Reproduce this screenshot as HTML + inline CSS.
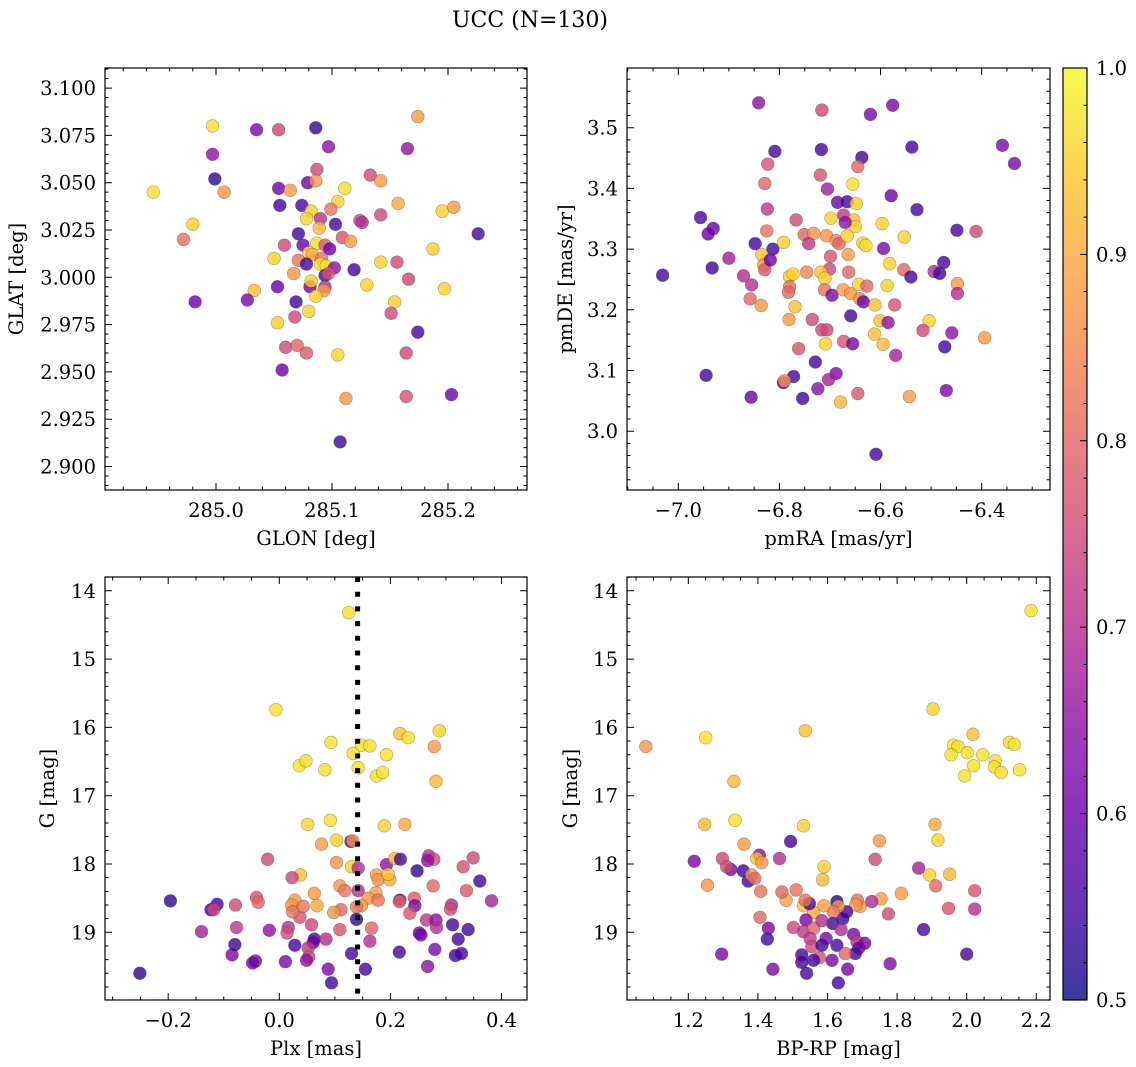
<!DOCTYPE html>
<html>
<head>
<meta charset="utf-8">
<style>
  html, body { margin: 0; padding: 0; background: #ffffff; }
  svg { display: block; font-family: "DejaVu Serif", "Liberation Serif", serif; }
</style>
</head>
<body>
<svg id="fig" width="1136" height="1067" viewBox="0 0 1136 1067" xmlns="http://www.w3.org/2000/svg">
  <defs>
    <linearGradient id="plasma" x1="0" y1="1" x2="0" y2="0">
      <stop offset="0" stop-color="#0d0887"/>
      <stop offset="0.1" stop-color="#41049d"/>
      <stop offset="0.2" stop-color="#6a00a8"/>
      <stop offset="0.3" stop-color="#8f0da4"/>
      <stop offset="0.4" stop-color="#b12a90"/>
      <stop offset="0.5" stop-color="#cc4778"/>
      <stop offset="0.6" stop-color="#e16462"/>
      <stop offset="0.7" stop-color="#f2844b"/>
      <stop offset="0.8" stop-color="#fca636"/>
      <stop offset="0.9" stop-color="#fcce25"/>
      <stop offset="1" stop-color="#f0f921"/>
    </linearGradient>
  </defs>
  <text x="530" y="27" font-size="22" text-anchor="middle" fill="#000">UCC (N=130)</text>
</svg>
<script>
// ---------- Panel 1: GLON vs GLAT ----------
const glon = [285.174,284.997,285.035,285.054,285.086,285.097,285.165,284.997,285.087,284.999,
285.079,285.086,285.133,285.142,284.946,285.007,285.054,285.064,285.111,285.055,
285.074,285.082,285.105,285.099,285.157,285.195,285.205,285.142,285.078,285.090,
285.103,285.124,285.126,285.089,285.226,284.980,284.972,285.071,285.059,285.075,
285.087,285.094,285.098,285.109,285.116,285.187,285.050,285.071,285.080,285.083,
285.078,285.091,285.090,285.095,285.102,285.094,285.097,285.119,285.142,285.156,
285.067,285.166,285.053,285.033,285.081,285.082,285.094,285.093,285.086,285.130,
285.197,284.982,285.027,285.069,285.154,285.080,285.068,285.151,285.053,285.174,
285.060,285.070,285.078,285.105,285.164,285.057,285.112,285.164,285.203,285.107];
const glat = [3.085,3.080,3.078,3.078,3.079,3.069,3.068,3.065,3.057,3.052,
3.050,3.051,3.054,3.051,3.045,3.045,3.047,3.046,3.047,3.038,
3.038,3.035,3.040,3.036,3.039,3.035,3.037,3.033,3.031,3.031,
3.028,3.030,3.029,3.026,3.023,3.028,3.020,3.023,3.017,3.017,
3.018,3.017,3.015,3.021,3.019,3.015,3.010,3.009,3.013,3.012,
3.007,3.010,3.007,3.006,3.005,3.001,3.002,3.004,3.008,3.008,
3.002,2.999,2.995,2.993,2.995,2.998,2.995,2.993,2.990,2.996,
2.994,2.987,2.988,2.987,2.987,2.982,2.979,2.981,2.976,2.971,
2.963,2.964,2.960,2.959,2.960,2.951,2.936,2.937,2.938,2.913];
const prob1 = [.88,.97,.62,.75,.53,.65,.65,.65,.75,.53,
.6,.87,.75,.88,.97,.87,.6,.88,.97,.55,
.55,.95,.95,.82,.9,.95,.88,.75,.95,.7,
.55,.75,.7,.92,.55,.95,.82,.55,.75,.6,
.97,.78,.6,.77,.88,.95,.95,.82,.97,.9,
.55,.82,.97,.97,.65,.55,.77,.55,.95,.75,
.87,.75,.6,.93,.6,.95,.7,.88,.95,.95,
.95,.6,.62,.55,.95,.95,.75,.75,.95,.55,
.75,.8,.78,.95,.75,.6,.87,.77,.6,.55];

// ---------- Panel 2: pmRA vs pmDE ----------
const pmra = [-6.841,-6.716,-6.620,-6.576,-6.538,-6.359,-6.335,-6.809,-6.717,-6.637,
-6.823,-6.645,-6.829,-6.719,-6.655,-6.705,-6.579,-6.528,-6.824,-6.685,
-6.666,-6.648,-6.956,-6.931,-6.941,-6.449,-6.411,-6.767,-6.698,-6.673,
-6.653,-6.650,-6.670,-6.597,-6.553,-6.825,-6.751,-6.732,-6.707,-6.688,
-6.682,-6.666,-6.742,-6.635,-6.629,-6.848,-6.813,-6.792,-6.594,-6.835,
-6.831,-6.829,-6.818,-6.900,-6.933,-7.031,-6.871,-6.855,-6.858,-6.836,
-6.699,-6.701,-6.664,-6.663,-6.780,-6.773,-6.746,-6.718,-6.710,-6.780,
-6.782,-6.711,-6.696,-6.674,-6.659,-6.643,-6.627,-6.641,-6.634,-6.611,
-6.587,-6.582,-6.554,-6.540,-6.494,-6.483,-6.475,-6.448,-6.448,-6.572,
-6.769,-6.781,-6.735,-6.659,-6.601,-6.585,-6.504,-6.516,-6.459,-6.394,
-6.716,-6.706,-6.612,-6.709,-6.673,-6.655,-6.595,-6.762,-6.570,-6.473,
-6.729,-6.945,-6.772,-6.792,-6.790,-6.688,-6.703,-6.724,-6.856,-6.754,
-6.645,-6.679,-6.543,-6.470,-6.609];
const pmde = [3.541,3.529,3.522,3.537,3.468,3.471,3.441,3.461,3.464,3.451,
3.440,3.436,3.408,3.422,3.407,3.399,3.388,3.365,3.366,3.377,
3.378,3.375,3.352,3.334,3.325,3.331,3.329,3.348,3.351,3.356,
3.348,3.337,3.344,3.342,3.320,3.330,3.324,3.326,3.322,3.314,
3.309,3.322,3.309,3.310,3.306,3.309,3.300,3.311,3.301,3.291,
3.274,3.266,3.282,3.285,3.269,3.257,3.256,3.241,3.218,3.207,
3.288,3.267,3.291,3.262,3.255,3.259,3.262,3.262,3.252,3.238,
3.229,3.233,3.224,3.233,3.227,3.242,3.239,3.218,3.213,3.208,
3.240,3.276,3.266,3.254,3.263,3.260,3.278,3.243,3.227,3.208,
3.205,3.184,3.184,3.190,3.182,3.179,3.182,3.166,3.162,3.154,
3.167,3.167,3.160,3.144,3.148,3.144,3.143,3.136,3.125,3.139,
3.114,3.092,3.090,3.080,3.083,3.095,3.085,3.070,3.056,3.054,
3.062,3.048,3.057,3.067,2.962];
const prob2 = [.65,.75,.62,.62,.55,.62,.62,.55,.55,.55,
.77,.8,.8,.77,.97,.67,.6,.55,.72,.6,
.55,.95,.55,.6,.6,.55,.75,.75,.95,.72,
.93,.95,.65,.95,.95,.82,.8,.87,.87,.85,
.8,.95,.72,.95,.97,.55,.55,.95,.62,.93,
.88,.78,.6,.68,.55,.55,.7,.7,.8,.87,
.77,.75,.88,.8,.95,.95,.85,.93,.95,.82,
.8,.82,.62,.88,.87,.95,.8,.85,.6,.93,
.95,.95,.8,.55,.7,.55,.55,.88,.7,.77,
.93,.88,.75,.55,.93,.65,.95,.75,.65,.88,
.75,.75,.93,.95,.77,.62,.92,.77,.68,.55,
.55,.55,.55,.55,.87,.62,.68,.65,.6,.55,
.77,.92,.88,.62,.55];

// ---------- Panel 3: Plx vs G ----------
const plx = [-0.006,0.093,0.133,0.148,0.163,0.142,0.217,0.232,0.288,0.279,
0.193,0.036,0.048,0.082,0.175,0.186,0.282,0.051,0.092,0.189,
0.226,0.076,0.103,0.129,0.132,-0.021,0.038,0.023,0.103,0.130,
0.142,0.193,0.208,0.218,0.248,0.269,0.278,0.267,0.331,0.349,
0.361,0.382,0.337,0.277,0.175,0.178,0.199,0.196,0.109,0.118,
0.142,0.063,0.174,0.160,0.148,0.139,0.178,0.217,0.216,0.243,
0.244,0.235,0.310,0.308,0.265,0.282,0.283,0.312,0.340,0.252,
0.255,0.322,0.280,0.216,0.317,0.328,0.267,0.166,0.163,0.139,
0.130,0.155,0.088,0.094,0.109,0.111,0.098,0.068,0.058,0.037,
0.028,0.022,0.024,0.043,-0.041,-0.038,-0.079,-0.077,-0.140,-0.018,
0.016,0.014,0.028,0.063,0.061,0.084,0.052,0.053,0.049,0.011,
-0.043,-0.048,-0.085,-0.080,-0.112,-0.123,-0.118,-0.196,-0.251,0.125];
const gmag3 = [15.74,16.22,16.38,16.26,16.27,16.59,16.09,16.15,16.05,16.28,
16.40,16.56,16.49,16.62,16.71,16.66,16.79,17.42,17.36,17.44,
17.42,17.71,17.65,17.67,17.66,17.93,18.16,18.20,17.98,18.04,
18.06,18.01,17.92,17.93,18.10,17.88,17.93,17.95,18.04,17.91,
18.25,18.54,18.39,18.32,18.16,18.23,18.23,18.15,18.32,18.39,
18.39,18.43,18.42,18.50,18.61,18.63,18.53,18.53,18.55,18.50,
18.61,18.72,18.60,18.66,18.82,18.82,18.93,18.89,18.96,19.01,
19.04,19.10,19.25,19.29,19.34,19.31,19.50,18.94,19.13,18.81,
19.31,19.54,19.54,19.74,18.96,18.67,18.71,18.61,18.89,18.78,
18.53,18.60,18.70,18.62,18.49,18.56,18.60,18.93,18.99,18.97,
18.93,19.01,19.19,19.10,19.15,19.10,19.23,19.36,19.41,19.43,
19.42,19.45,19.33,19.18,18.59,18.67,18.67,18.54,19.60,14.32];
const prob3 = [.97,.97,.97,.97,.97,.97,.93,.97,.95,.88,
.97,.97,.97,.97,.97,.97,.92,.95,.97,.95,
.9,.88,.95,.55,.87,.75,.93,.75,.87,.95,
.7,.65,.93,.55,.53,.7,.75,.65,.77,.75,
.55,.68,.78,.8,.88,.87,.9,.93,.87,.82,
.7,.88,.88,.87,.88,.82,.82,.55,.8,.78,
.62,.77,.7,.75,.72,.65,.7,.55,.55,.62,
.6,.55,.62,.55,.55,.55,.65,.8,.7,.53,
.55,.55,.62,.55,.77,.8,.87,.9,.75,.77,
.88,.87,.82,.82,.77,.8,.75,.72,.68,.65,
.7,.75,.55,.55,.6,.7,.72,.75,.65,.62,
.62,.6,.62,.55,.55,.55,.75,.53,.53,.97];
const plxThreshold = [0.141];

// ---------- Panel 4: BP-RP vs G ----------
const bprp = [1.903,2.018,1.962,1.975,1.955,2.002,2.046,2.020,1.994,2.082,
2.080,2.099,2.123,2.137,2.152,1.078,1.250,1.536,1.331,1.247,
1.334,1.531,1.909,1.917,1.749,1.494,1.737,1.360,1.404,1.397,
1.411,1.462,1.217,1.298,1.322,1.310,1.358,1.372,1.382,1.391,
1.255,1.408,1.406,1.430,1.427,1.296,1.443,1.590,1.586,1.862,
1.893,1.951,1.911,1.812,2.023,2.023,1.948,1.775,1.876,2.000,
1.780,1.754,1.727,1.694,1.686,1.681,1.655,1.644,1.627,1.631,
1.617,1.615,1.590,1.560,1.531,1.548,1.536,1.510,1.481,1.469,
1.502,1.538,1.531,1.560,1.584,1.550,1.555,1.596,1.584,1.627,
1.639,1.675,1.685,1.707,1.690,1.680,1.651,1.577,1.613,1.560,
1.526,1.526,1.540,1.658,1.631,2.185];
const gmag4 = [15.73,16.10,16.26,16.28,16.40,16.37,16.40,16.56,16.71,16.49,
16.58,16.66,16.22,16.25,16.62,16.28,16.15,16.05,16.79,17.42,
17.36,17.44,17.42,17.65,17.66,17.67,17.93,17.71,17.87,17.92,
17.98,17.92,17.96,17.92,18.08,18.04,18.10,18.25,18.16,18.21,
18.31,18.40,18.78,18.94,19.10,19.32,19.54,18.04,18.23,18.06,
18.16,18.15,18.32,18.43,18.39,18.66,18.65,18.73,18.96,19.32,
19.46,18.51,18.55,18.62,18.53,18.60,18.70,18.80,18.55,18.62,
18.70,18.87,18.61,18.71,18.61,18.58,18.53,18.38,18.53,18.41,
18.93,18.82,18.99,18.94,18.83,19.09,19.21,19.09,19.19,19.19,
18.96,19.03,19.14,19.16,19.23,19.31,19.31,19.37,19.41,19.41,
19.33,19.44,19.60,19.54,19.74,14.29];
const prob4 = [.95,.93,.97,.97,.97,.97,.97,.97,.97,.97,
.97,.97,.97,.97,.97,.87,.97,.93,.92,.92,
.97,.95,.9,.95,.88,.55,.75,.88,.65,.93,
.88,.7,.62,.75,.62,.75,.55,.55,.88,.8,
.87,.82,.8,.62,.55,.62,.62,.95,.92,.68,
.95,.92,.8,.88,.77,.7,.77,.75,.55,.55,
.62,.88,.7,.87,.82,.88,.55,.55,.52,.88,
.82,.55,.88,.9,.93,.55,.82,.82,.88,.8,
.75,.62,.72,.8,.7,.72,.75,.62,.55,.55,
.7,.62,.72,.62,.6,.55,.8,.77,.62,.55,
.55,.55,.55,.62,.55,.97];

// ---------- Colorbar ticks ----------
const cbarTicks = [0.5, 0.6, 0.7, 0.8, 0.9, 1.0];

// ---------- Helpers ----------
const NS = 'http://www.w3.org/2000/svg';
const svg = document.getElementById('fig');
const FS = 19.5;
function mk(tag, attrs, parent) {
  const e = document.createElementNS(NS, tag);
  for (const k in attrs) e.setAttribute(k, attrs[k]);
  (parent || svg).appendChild(e);
  return e;
}
const plasmaStops = ['#0d0887','#41049d','#6a00a8','#8f0da4','#b12a90','#cc4778','#e16462','#f2844b','#fca636','#fcce25','#f0f921'];
function hex2rgb(h) { return [parseInt(h.slice(1,3),16), parseInt(h.slice(3,5),16), parseInt(h.slice(5,7),16)]; }
function plasma(p) {
  let t = (p - 0.5) / 0.5; t = Math.max(0, Math.min(1, t));
  const f = t * 10; const i = Math.min(9, Math.floor(f)); const r = f - i;
  const a = hex2rgb(plasmaStops[i]), b = hex2rgb(plasmaStops[i+1]);
  return 'rgb(' + a.map((v, k) => Math.round(v + (b[k] - v) * r)).join(',') + ')';
}
function fmt(v, d) { const s = Math.abs(v).toFixed(d); return (v < -1e-9 ? '\u2212' : '') + s; }
function range(lo, hi, step) {
  const out = []; const k0 = Math.ceil(lo / step - 1e-6), k1 = Math.floor(hi / step + 1e-6);
  for (let k = k0; k <= k1; k++) out.push(+(k * step).toFixed(6));
  return out;
}

function panel(cfg) {
  const g = mk('g', {});
  
  
  const L = cfg.left, R = cfg.right, T = cfg.top, B = cfg.bottom;
  const xinv = px => cfg.x0v + (px - cfg.x0p) / cfg.xs;
  const yinv = py => cfg.y0v - (py - cfg.y0p) / cfg.ys * (cfg.yflip ? -1 : 1);
  const sx = v => cfg.x0p + (v - cfg.x0v) * cfg.xs;
  const sy = v => cfg.yflip ? cfg.y0p + (v - cfg.y0v) * cfg.ys : cfg.y0p - (v - cfg.y0v) * cfg.ys;

  const cid = 'clip-' + cfg.name;
  const cp = mk('clipPath', { id: cid }, g);
  mk('rect', { x: L, y: T, width: R - L, height: B - T }, cp);

  const pts = mk('g', { 'clip-path': 'url(#' + cid + ')' }, g);
  
  
  const n = Math.min(cfg.xs_data.length, cfg.ys_data.length, cfg.ps_data.length);
  for (let i = 0; i < n; i++) {
    const c = mk('circle', { cx: sx(cfg.xs_data[i]).toFixed(2), cy: sy(cfg.ys_data[i]).toFixed(2), r: 6.4,
      fill: plasma(cfg.ps_data[i]), 'fill-opacity': 0.8, stroke: '#404040', 'stroke-opacity': 0.45, 'stroke-width': 0.6 }, pts);
    
    
  }

  if (cfg.extra) cfg.extra(g, sx, sy);

  const fr = mk('rect', { x: L, y: T, width: R - L, height: B - T, fill: 'none', stroke: '#000', 'stroke-width': 1.2 }, g);
  
  

  const xlo = Math.min(xinv(L), xinv(R)), xhi = Math.max(xinv(L), xinv(R));
  const ylo = Math.min(yinv(T), yinv(B)), yhi = Math.max(yinv(T), yinv(B));
  let d = '';
  range(xlo, xhi, cfg.xminor).forEach(v => { const x = sx(v); d += `M${x},${B}v-3.5M${x},${T}v3.5`; });
  range(ylo, yhi, cfg.yminor).forEach(v => { const y = sy(v); d += `M${L},${y}h3.5M${R},${y}h-3.5`; });
  range(xlo, xhi, cfg.xmajor).forEach(v => { const x = sx(v); d += `M${x},${B}v-7M${x},${T}v7`; });
  range(ylo, yhi, cfg.ymajor).forEach(v => { const y = sy(v); d += `M${L},${y}h7M${R},${y}h-7`; });
  const tk = mk('path', { d: d, stroke: '#000', 'stroke-width': 1, fill: 'none' }, g);
  
  

  const xt = mk('g', { 'font-size': FS, 'text-anchor': 'middle', fill: '#000' }, g);
  
  
  range(xlo, xhi, cfg.xmajor).forEach(v => {
    const t = mk('text', { x: sx(v), y: B + 27 }, xt); t.textContent = fmt(v, cfg.xdec);
  });
  const yt = mk('g', { 'font-size': FS, 'text-anchor': 'end', fill: '#000' }, g);
  
  
  range(ylo, yhi, cfg.ymajor).forEach(v => {
    const t = mk('text', { x: L - 9, y: sy(v) + 7 }, yt); t.textContent = fmt(v, cfg.ydec);
  });

  const xl = mk('text', { x: (L + R) / 2, y: B + 55, 'font-size': FS, 'text-anchor': 'middle', fill: '#000' }, g);
  
  
  xl.textContent = cfg.xlabel;
  const yc = (T + B) / 2;
  const yl = mk('text', { x: cfg.ylabx, y: yc, 'font-size': FS, 'text-anchor': 'middle', fill: '#000',
    transform: `rotate(-90 ${cfg.ylabx} ${yc})` }, g);
  
  
  yl.textContent = cfg.ylabel;
}

panel({ name: 'glon-glat-panel', left: 105, right: 527, top: 68, bottom: 490,
  x0v: 285.0, x0p: 216, xs: 1160, y0v: 3.0, y0p: 277.3, ys: 1892,
  xmajor: 0.1, xminor: 0.02, ymajor: 0.025, yminor: 0.005, xdec: 1, ydec: 3,
  xs_data: glon, ys_data: glat, ps_data: prob1, xlabel: 'GLON [deg]', ylabel: 'GLAT [deg]', ylabx: 23 });

panel({ name: 'pm-panel', left: 627, right: 1050, top: 68, bottom: 490,
  x0v: -7.0, x0p: 678.3, xs: 505.6, y0v: 3.5, y0p: 127.7, ys: 607,
  xmajor: 0.2, xminor: 0.05, ymajor: 0.1, yminor: 0.02, xdec: 1, ydec: 1,
  xs_data: pmra, ys_data: pmde, ps_data: prob2, xlabel: 'pmRA [mas/yr]', ylabel: 'pmDE [mas/yr]', ylabx: 572 });

panel({ name: 'plx-g-panel', left: 105, right: 527, top: 577, bottom: 1000,
  x0v: 0.0, x0p: 279.3, xs: 555.5, y0v: 19, y0p: 932.3, ys: 68.3, yflip: true,
  xmajor: 0.2, xminor: 0.05, ymajor: 1, yminor: 0.2, xdec: 1, ydec: 0,
  xs_data: plx, ys_data: gmag3, ps_data: prob3, xlabel: 'Plx [mas]', ylabel: 'G [mag]', ylabx: 54,
  extra: (g, sx, sy) => {
    plxThreshold.forEach(v => {
      const ln = mk('line', { x1: sx(v), x2: sx(v), y1: 577, y2: 1000, stroke: '#000', 'stroke-width': 5, 'stroke-dasharray': '5 9.7' }, g);
      
      
    });
  } });

panel({ name: 'cmd-panel', left: 627, right: 1050, top: 577, bottom: 1000,
  x0v: 1.2, x0p: 688.3, xs: 348, y0v: 19, y0p: 932.3, ys: 68.3, yflip: true,
  xmajor: 0.2, xminor: 0.05, ymajor: 1, yminor: 0.2, xdec: 1, ydec: 0,
  xs_data: bprp, ys_data: gmag4, ps_data: prob4, xlabel: 'BP-RP [mag]', ylabel: 'G [mag]', ylabx: 577 });

// ---------- Colorbar ----------
(function () {
  const CL = 1063, CR = 1087, CT = 68, CB = 1000;
  const cy = v => CB - (v - 0.5) / 0.5 * (CB - CT);
  const g = mk('g', {});
  
  
  const r = mk('rect', { x: CL, y: CT, width: CR - CL, height: CB - CT, fill: 'url(#plasma)', 'fill-opacity': 0.8 }, g);
  
  
  mk('rect', { x: CL, y: CT, width: CR - CL, height: CB - CT, fill: 'none', stroke: '#000', 'stroke-width': 1.2 }, g);
  let d = '';
  range(0.5, 1.0, 0.02).forEach(v => { d += `M${CR},${cy(v)}h-3.5`; });
  cbarTicks.forEach(v => { d += `M${CR},${cy(v)}h-7`; });
  mk('path', { d: d, stroke: '#000', 'stroke-width': 1 }, g);
  const lab = mk('g', { 'font-size': FS, fill: '#000' }, g);
  
  
  cbarTicks.forEach(v => {
    const t = mk('text', { x: CR + 9, y: cy(v) + 7 }, lab); t.textContent = v.toFixed(1);
  });
})();
</script>
</body>
</html>
